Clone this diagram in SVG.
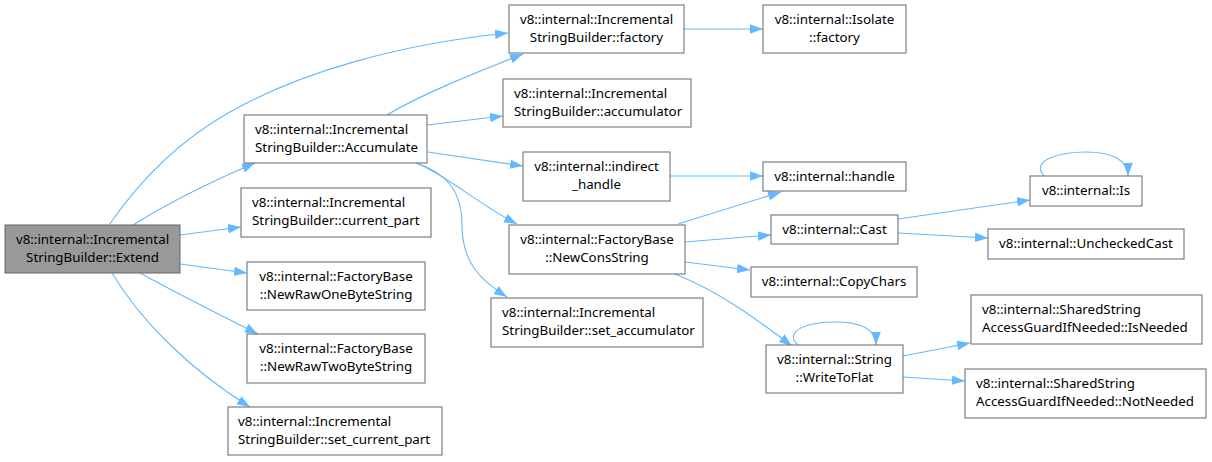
<svg xmlns="http://www.w3.org/2000/svg" width="1212" height="462" viewBox="0 0 1212 462">
<defs>
<style>
.node rect{fill:#ffffff;stroke:#666666;stroke-width:1}
.node.hl rect{fill:#999999}
text{font-family:"Noto Sans","DejaVu Sans",sans-serif;font-size:13.33px;fill:#000000}
.c{text-anchor:middle}
.l{text-anchor:start}
.edge{fill:none;stroke:#63b8ff;stroke-width:1.1;marker-end:url(#ah)}
</style>
<marker id="ah" markerUnits="userSpaceOnUse" markerWidth="14" markerHeight="10" refX="13" refY="4.75" orient="auto">
<path d="M0,0 L13,4.75 L0,9.5 z" fill="#63b8ff"/>
</marker>
</defs>
<rect width="1212" height="462" fill="#ffffff"/>
<g id="connectors">
<path class="edge" d="M109,225 C140,180 180,140 230,112 C300,72 400,44 508,33"/>
<path class="edge" d="M133,225 C170,202 210,182 255,163"/>
<path class="edge" d="M180,235 L241,227"/>
<path class="edge" d="M180,264 L247,273"/>
<path class="edge" d="M140,273 C180,295 220,315 258,334"/>
<path class="edge" d="M112,273 C140,320 190,370 250,407"/>
<path class="edge" d="M387,115 C420,95 470,75 523,54"/>
<path class="edge" d="M427,125 L503,116"/>
<path class="edge" d="M428,152 L523,166"/>
<path class="edge" d="M417,163 C450,178 480,205 517,224"/>
<path class="edge" d="M416,163 C445,172 462,190 462,225 C462,262 480,280 507,297"/>
<path class="edge" d="M684,29 L763,29"/>
<path class="edge" d="M670,176 L763,176"/>
<path class="edge" d="M678,224 L781,192"/>
<path class="edge" d="M685,242 L771,235"/>
<path class="edge" d="M685,262 L750,270"/>
<path class="edge" d="M675,274 C720,292 755,318 792,346"/>
<path class="edge" d="M898,219 L1030,200"/>
<path class="edge" d="M898,233 L988,238"/>
<path class="edge" d="M1044,176 C1030,160 1060,152 1086,152 C1112,152 1128,160 1128,176"/>
<path class="edge" d="M798,345 C782,330 810,322 835,322 C862,322 876,330 876,345"/>
<path class="edge" d="M903,356 L970,343"/>
<path class="edge" d="M903,377 L965,381"/>
</g>
<g id="n_extend" class="node hl"><rect x="5" y="225" width="175" height="48"/><text class="c" x="92.5" y="244">v8::internal::Incremental</text><text class="c" x="92.5" y="262">StringBuilder::Extend</text></g>
<g id="n_accumulate" class="node"><rect x="244" y="115" width="183" height="48"/><text class="l" x="255" y="134">v8::internal::Incremental</text><text class="l" x="255" y="152">StringBuilder::Accumulate</text></g>
<g id="n_current_part" class="node"><rect x="241" y="188" width="190" height="49"/><text class="l" x="252" y="207">v8::internal::Incremental</text><text class="l" x="252" y="225">StringBuilder::current_part</text></g>
<g id="n_onebyte" class="node"><rect x="247" y="262" width="178" height="48"/><text class="c" x="336" y="281">v8::internal::FactoryBase</text><text class="c" x="336" y="299">::NewRawOneByteString</text></g>
<g id="n_twobyte" class="node"><rect x="247" y="334" width="178" height="49"/><text class="c" x="336" y="353">v8::internal::FactoryBase</text><text class="c" x="336" y="371">::NewRawTwoByteString</text></g>
<g id="n_set_current_part" class="node"><rect x="228" y="407" width="214" height="48"/><text class="l" x="238" y="426">v8::internal::Incremental</text><text class="l" x="238" y="444">StringBuilder::set_current_part</text></g>
<g id="n_isb_factory" class="node"><rect x="509" y="5" width="175" height="48"/><text class="c" x="596.5" y="24">v8::internal::Incremental</text><text class="c" x="596.5" y="42">StringBuilder::factory</text></g>
<g id="n_isolate_factory" class="node"><rect x="763" y="5" width="143" height="48"/><text class="c" x="834.5" y="24">v8::internal::Isolate</text><text class="c" x="834.5" y="42">::factory</text></g>
<g id="n_accumulator" class="node"><rect x="503" y="79" width="188" height="48"/><text class="l" x="514" y="98">v8::internal::Incremental</text><text class="l" x="514" y="116">StringBuilder::accumulator</text></g>
<g id="n_indirect_handle" class="node"><rect x="523" y="152" width="147" height="49"/><text class="c" x="596.5" y="171">v8::internal::indirect</text><text class="c" x="596.5" y="189">_handle</text></g>
<g id="n_handle" class="node"><rect x="763" y="162" width="143" height="29"/><text class="c" x="834.5" y="181">v8::internal::handle</text></g>
<g id="n_newconsstring" class="node"><rect x="509" y="225" width="176" height="49"/><text class="c" x="597" y="244">v8::internal::FactoryBase</text><text class="c" x="597" y="262">::NewConsString</text></g>
<g id="n_cast" class="node"><rect x="771" y="215" width="127" height="29"/><text class="c" x="834.5" y="234">v8::internal::Cast</text></g>
<g id="n_copychars" class="node"><rect x="751" y="267" width="166" height="30"/><text class="c" x="834" y="286">v8::internal::CopyChars</text></g>
<g id="n_set_accumulator" class="node"><rect x="491" y="298" width="212" height="49"/><text class="l" x="502" y="317">v8::internal::Incremental</text><text class="l" x="502" y="335">StringBuilder::set_accumulator</text></g>
<g id="n_is" class="node"><rect x="1030" y="176" width="112" height="30"/><text class="c" x="1086" y="195">v8::internal::Is</text></g>
<g id="n_uncheckedcast" class="node"><rect x="988" y="229" width="196" height="30"/><text class="c" x="1086" y="248">v8::internal::UncheckedCast</text></g>
<g id="n_writetoflat" class="node"><rect x="766" y="345" width="137" height="48"/><text class="c" x="834.5" y="364">v8::internal::String</text><text class="c" x="834.5" y="382">::WriteToFlat</text></g>
<g id="n_isneeded" class="node"><rect x="971" y="295" width="231" height="49"/><text class="l" x="982" y="314">v8::internal::SharedString</text><text class="l" x="982" y="332">AccessGuardIfNeeded::IsNeeded</text></g>
<g id="n_notneeded" class="node"><rect x="965" y="369" width="241" height="49"/><text class="l" x="976" y="388">v8::internal::SharedString</text><text class="l" x="976" y="406">AccessGuardIfNeeded::NotNeeded</text></g>
</svg>
